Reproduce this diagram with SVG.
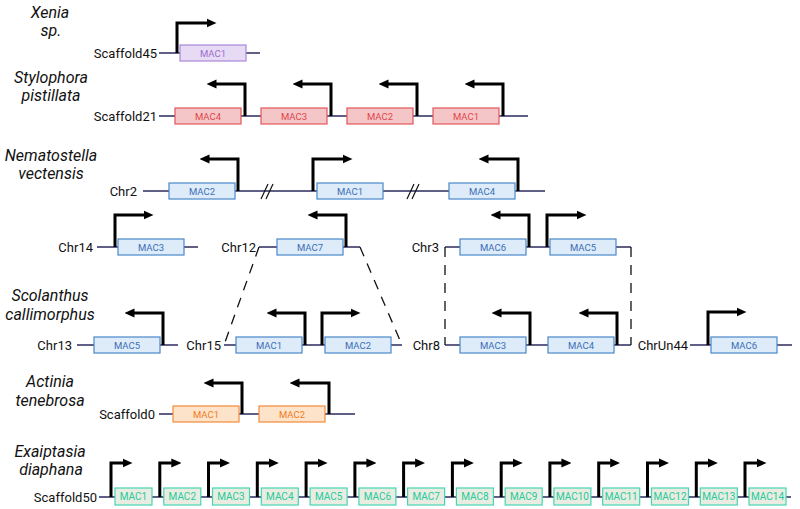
<svg xmlns="http://www.w3.org/2000/svg" width="800" height="509" viewBox="0 0 800 509">
<style>
text{font-family:Roboto,"Liberation Sans",Arial,sans-serif;fill:#111}
.sp{font-size:16px;font-style:italic;text-anchor:middle}
.lb{font-size:13px;text-anchor:end}
.g{font-size:9.5px;text-anchor:middle}
.chr{stroke:#2b2b5e;stroke-width:1.6;fill:none}
.arr{stroke:#000;stroke-width:3;fill:none;stroke-linejoin:miter;marker-end:url(#ah)}
.dash{stroke:#111;stroke-width:1.3;fill:none;stroke-dasharray:10 8}
.brk{stroke:#111;stroke-width:1.2}
.pu rect{fill:#e6daf4;stroke:#a987d9;stroke-width:1.2}.pu text{fill:#9b6fd0}
.re rect{fill:#f5c6c7;stroke:#e2575b;stroke-width:1.2}.re text{fill:#e0474c}
.bl rect{fill:#deebf9;stroke:#4a87c9;stroke-width:1.2}.bl text{fill:#3b6fb6}
.or rect{fill:#fde3ca;stroke:#f28b3a;stroke-width:1.2}.or text{fill:#f27c1e}
.gr rect{fill:#e9ede1;stroke:#45d6b4;stroke-width:1.2}.gr text{fill:#26c99c;font-size:10px}
</style>
<defs>
<marker id="ah" markerUnits="userSpaceOnUse" markerWidth="10" markerHeight="10" refX="0.5" refY="5" orient="auto" viewBox="0 0 10 10">
<path d="M0,0.5 L10,5 L0,9.5 z" fill="#000"/>
</marker>
</defs>

<!-- species labels -->
<g id="species">
<text class="sp" x="50" y="18">Xenia</text><text class="sp" x="51" y="36">sp.</text>
<text class="sp" x="51" y="83">Stylophora</text><text class="sp" x="51" y="101">pistillata</text>
<text class="sp" x="51" y="161">Nematostella</text><text class="sp" x="51" y="179">vectensis</text>
<text class="sp" x="50" y="301">Scolanthus</text><text class="sp" x="50" y="320">callimorphus</text>
<text class="sp" x="50" y="387">Actinia</text><text class="sp" x="50" y="406">tenebrosa</text>
<text class="sp" x="50" y="457">Exaiptasia</text><text class="sp" x="51" y="475">diaphana</text>
</g>

<!-- chromosomes -->
<g id="chr-scaffold45"><text class="lb" x="157" y="58">Scaffold45</text><path class="chr" d="M159,53H260"/></g>
<g id="chr-scaffold21"><text class="lb" x="157" y="120.5">Scaffold21</text><path class="chr" d="M159,116H528"/></g>
<g id="chr-chr2"><text class="lb" x="137" y="195.5">Chr2</text><path class="chr" d="M143,191H545"/>
<path class="brk" d="M261,199L268,184M266,199L273,184M407,199L414,184M412,199L419,184"/></g>
<g id="chr-chr14"><text class="lb" x="93" y="251.5">Chr14</text><path class="chr" d="M97,247H198"/></g>
<g id="chr-chr12"><text class="lb" x="256" y="251.5">Chr12</text><path class="chr" d="M259,247H360"/></g>
<g id="chr-chr3"><text class="lb" x="439" y="251.5">Chr3</text><path class="chr" d="M445,247H631"/></g>
<g id="chr-chr13"><text class="lb" x="72" y="349.5">Chr13</text><path class="chr" d="M77,345H178"/></g>
<g id="chr-chr15"><text class="lb" x="221" y="349.5">Chr15</text><path class="chr" d="M224,345H402"/></g>
<g id="chr-chr8"><text class="lb" x="440" y="349.5">Chr8</text><path class="chr" d="M445,345H631"/></g>
<g id="chr-chrun44"><text class="lb" x="688" y="349.5">ChrUn44</text><path class="chr" d="M690,345H792"/></g>
<g id="chr-scaffold0"><text class="lb" x="155" y="418.5">Scaffold0</text><path class="chr" d="M159,414H355"/></g>
<g id="chr-scaffold50"><text class="lb" x="97" y="501.5">Scaffold50</text><path class="chr" d="M99,497H791"/></g>

<!-- connectors between syntenic regions -->
<g id="connectors">
<path class="dash" d="M259,247L224,345"/>
<path class="dash" d="M360,247L402,345"/>
<path class="dash" d="M445,247V345"/>
<path class="dash" d="M631,247V345"/>
</g>

<!-- genes -->
<g id="xen-mac1" class="pu"><rect x="180" y="45" width="66" height="16"/><text class="g" x="213" y="56.5">MAC1</text><path class="arr" d="M177,53V23H207"/></g>

<g id="sty-mac4" class="re"><rect x="175" y="108" width="66" height="16"/><text class="g" x="208" y="119.5">MAC4</text><path class="arr" d="M245,116V84H216"/></g>
<g id="sty-mac3" class="re"><rect x="261" y="108" width="66" height="16"/><text class="g" x="294" y="119.5">MAC3</text><path class="arr" d="M331,116V84H302"/></g>
<g id="sty-mac2" class="re"><rect x="347" y="108" width="66" height="16"/><text class="g" x="380" y="119.5">MAC2</text><path class="arr" d="M417,116V84H388"/></g>
<g id="sty-mac1" class="re"><rect x="433" y="108" width="66" height="16"/><text class="g" x="466" y="119.5">MAC1</text><path class="arr" d="M503,116V84H474"/></g>

<g id="nem-mac2" class="bl"><rect x="169" y="183" width="66" height="16"/><text class="g" x="202" y="194.5">MAC2</text><path class="arr" d="M238,191V159H209"/></g>
<g id="nem-mac1" class="bl"><rect x="317" y="183" width="66" height="16"/><text class="g" x="350" y="194.5">MAC1</text><path class="arr" d="M313,191V159H343"/></g>
<g id="nem-mac4" class="bl"><rect x="449" y="183" width="66" height="16"/><text class="g" x="482" y="194.5">MAC4</text><path class="arr" d="M518,191V159H488"/></g>

<g id="nem-mac3" class="bl"><rect x="118" y="239" width="66" height="16"/><text class="g" x="151" y="250.5">MAC3</text><path class="arr" d="M115,247V215H144"/></g>
<g id="nem-mac7" class="bl"><rect x="277" y="239" width="66" height="16"/><text class="g" x="310" y="250.5">MAC7</text><path class="arr" d="M346,247V215H317"/></g>
<g id="nem-mac6" class="bl"><rect x="460" y="239" width="66" height="16"/><text class="g" x="493" y="250.5">MAC6</text><path class="arr" d="M529,247V215H500"/></g>
<g id="nem-mac5" class="bl"><rect x="550" y="239" width="66" height="16"/><text class="g" x="583" y="250.5">MAC5</text><path class="arr" d="M547,247V215H577"/></g>

<g id="sco-mac5" class="bl"><rect x="94" y="337" width="66" height="16"/><text class="g" x="127" y="348.5">MAC5</text><path class="arr" d="M163,345V313H134"/></g>
<g id="sco-mac1" class="bl"><rect x="236" y="337" width="66" height="16"/><text class="g" x="269" y="348.5">MAC1</text><path class="arr" d="M305,345V313H276"/></g>
<g id="sco-mac2" class="bl"><rect x="325" y="337" width="66" height="16"/><text class="g" x="358" y="348.5">MAC2</text><path class="arr" d="M322,345V313H351"/></g>
<g id="sco-mac3" class="bl"><rect x="460" y="337" width="66" height="16"/><text class="g" x="493" y="348.5">MAC3</text><path class="arr" d="M530,345V313H501"/></g>
<g id="sco-mac4" class="bl"><rect x="548" y="337" width="66" height="16"/><text class="g" x="581" y="348.5">MAC4</text><path class="arr" d="M617,345V313H588"/></g>
<g id="sco-mac6" class="bl"><rect x="711" y="337" width="66" height="16"/><text class="g" x="744" y="348.5">MAC6</text><path class="arr" d="M708,345V312H737"/></g>

<g id="act-mac1" class="or"><rect x="173" y="406" width="66" height="16"/><text class="g" x="206" y="417.5">MAC1</text><path class="arr" d="M242,414V383H213"/></g>
<g id="act-mac2" class="or"><rect x="259" y="406" width="66" height="16"/><text class="g" x="292" y="417.5">MAC2</text><path class="arr" d="M329,414V383H299"/></g>

<g id="exa-mac1" class="gr"><rect x="115" y="488" width="37" height="17"/><text class="g" x="133.5" y="500">MAC1</text><path class="arr" d="M111,497V463H123"/></g>
<g id="exa-mac2" class="gr"><rect x="163.8" y="488" width="37" height="17"/><text class="g" x="182.3" y="500">MAC2</text><path class="arr" d="M159.8,497V463H171.8"/></g>
<g id="exa-mac3" class="gr"><rect x="212.5" y="488" width="37" height="17"/><text class="g" x="231" y="500">MAC3</text><path class="arr" d="M208.5,497V463H220.5"/></g>
<g id="exa-mac4" class="gr"><rect x="261.3" y="488" width="37" height="17"/><text class="g" x="279.8" y="500">MAC4</text><path class="arr" d="M257.3,497V463H269.3"/></g>
<g id="exa-mac5" class="gr"><rect x="310.1" y="488" width="37" height="17"/><text class="g" x="328.6" y="500">MAC5</text><path class="arr" d="M306.1,497V463H318.1"/></g>
<g id="exa-mac6" class="gr"><rect x="358.9" y="488" width="37" height="17"/><text class="g" x="377.4" y="500">MAC6</text><path class="arr" d="M354.9,497V463H366.9"/></g>
<g id="exa-mac7" class="gr"><rect x="407.6" y="488" width="37" height="17"/><text class="g" x="426.1" y="500">MAC7</text><path class="arr" d="M403.6,497V463H415.6"/></g>
<g id="exa-mac8" class="gr"><rect x="456.4" y="488" width="37" height="17"/><text class="g" x="474.9" y="500">MAC8</text><path class="arr" d="M452.4,497V463H464.4"/></g>
<g id="exa-mac9" class="gr"><rect x="505.2" y="488" width="37" height="17"/><text class="g" x="523.7" y="500">MAC9</text><path class="arr" d="M501.2,497V463H513.2"/></g>
<g id="exa-mac10" class="gr"><rect x="553.9" y="488" width="37" height="17"/><text class="g" x="572.4" y="500">MAC10</text><path class="arr" d="M549.9,497V463H561.9"/></g>
<g id="exa-mac11" class="gr"><rect x="602.7" y="488" width="37" height="17"/><text class="g" x="621.2" y="500">MAC11</text><path class="arr" d="M598.7,497V463H610.7"/></g>
<g id="exa-mac12" class="gr"><rect x="651.5" y="488" width="37" height="17"/><text class="g" x="670" y="500">MAC12</text><path class="arr" d="M647.5,497V463H659.5"/></g>
<g id="exa-mac13" class="gr"><rect x="700.3" y="488" width="37" height="17"/><text class="g" x="718.8" y="500">MAC13</text><path class="arr" d="M696.3,497V463H708.3"/></g>
<g id="exa-mac14" class="gr"><rect x="749" y="488" width="37" height="17"/><text class="g" x="767.5" y="500">MAC14</text><path class="arr" d="M745,497V463H757"/></g>
</svg>
